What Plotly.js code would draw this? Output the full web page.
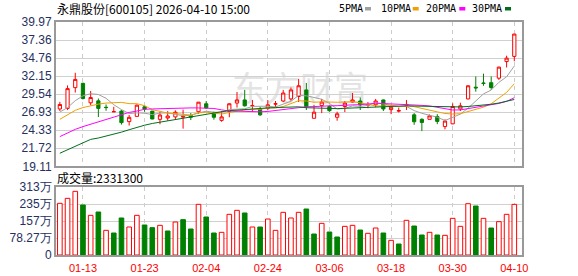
<!DOCTYPE html>
<html><head><meta charset="utf-8">
<script src="https://cdn.plot.ly/plotly-3.0.1.min.js"></script>
<style>html,body{margin:0;padding:0;background:#fff;}#chart{width:578px;height:276px;}</style>
</head><body><div id="chart"></div>
<script>
const dates = ["01-08","01-09","01-12","01-13","01-14","01-15","01-16","01-19","01-20","01-21","01-22","01-23","01-26","01-27","01-28","01-29","01-30","02-02","02-03","02-04","02-05","02-06","02-09","02-10","02-11","02-12","02-13","02-24","02-25","02-26","02-27","03-02","03-03","03-04","03-05","03-06","03-09","03-10","03-11","03-12","03-13","03-16","03-17","03-18","03-19","03-20","03-23","03-24","03-25","03-26","03-27","03-30","03-31","04-01","04-02","04-03","04-07","04-08","04-09","04-10"];
const opens = [27.40,27.48,30.48,31.10,28.29,28.57,27.64,26.99,27.09,25.57,
26.33,27.71,27.09,25.90,26.09,26.25,26.22,26.45,27.00,28.15,
26.85,25.75,27.05,28.25,28.70,27.85,27.35,27.50,28.10,28.55,
28.85,29.20,30.15,26.05,27.90,27.75,26.20,27.75,28.40,28.55,
27.95,28.00,28.70,27.30,27.10,27.95,26.55,25.90,25.90,26.30,
24.85,25.25,27.40,28.85,30.55,31.15,31.20,31.85,34.25,35.00];
const highs = [28.43,30.81,32.63,31.20,30.00,28.91,28.05,27.71,27.24,26.52,
28.05,27.86,27.10,27.00,27.09,27.20,27.30,26.80,28.40,28.55,
27.00,27.10,28.20,29.85,30.15,28.70,27.75,28.70,28.55,30.15,
30.50,31.75,31.15,28.00,28.85,27.90,27.00,28.55,29.70,29.05,
28.40,28.85,28.75,27.75,27.60,28.70,26.80,26.05,26.60,26.65,
25.90,28.20,28.30,30.80,32.10,32.50,32.10,33.50,35.10,38.23];
const lows = [27.10,27.24,29.77,28.77,27.95,26.24,27.14,26.99,25.14,25.00,
26.33,26.99,25.90,25.19,25.71,25.82,24.55,25.80,26.70,27.40,
25.85,25.55,26.20,27.60,27.75,26.95,26.40,27.25,27.65,28.40,
28.60,28.40,27.25,26.05,26.80,27.00,25.70,26.95,28.35,27.25,
27.50,27.65,27.10,26.65,26.90,27.25,25.10,24.20,25.90,25.20,
24.45,25.20,27.10,28.80,29.90,30.75,30.15,31.60,33.40,34.30];
const closes = [28.05,30.34,31.67,28.91,29.05,27.48,27.60,27.01,25.42,26.19,
27.95,27.38,25.95,26.52,26.38,26.93,26.30,26.20,28.38,27.55,
26.20,26.25,28.15,28.70,27.85,27.90,26.55,28.00,28.15,29.70,
30.15,30.75,27.75,26.93,28.40,27.15,26.70,28.25,28.70,27.98,
28.02,28.55,27.40,27.65,27.15,28.05,25.55,25.45,26.40,25.60,
25.65,27.75,27.85,30.75,30.45,31.10,30.50,33.45,34.75,38.23];
const ma5 = [26.95,27.60,28.60,29.30,29.60,29.49,28.94,28.01,27.31,26.74,
26.83,26.79,26.58,26.80,26.84,26.63,26.42,26.47,26.84,27.07,
26.93,26.92,27.31,27.37,27.43,27.77,27.83,27.80,27.69,28.06,
28.51,29.35,29.30,29.06,28.80,28.20,27.39,27.49,27.84,27.76,
27.93,28.30,28.13,27.92,27.75,27.76,27.16,26.77,26.52,26.21,
25.73,26.17,26.65,27.52,28.49,29.58,30.13,31.25,32.05,33.61];
const ma10 = [25.90,26.50,27.20,27.60,27.90,28.10,28.25,28.35,28.35,28.17,
28.16,27.87,27.29,27.06,26.79,26.73,26.60,26.52,26.82,26.95,
26.78,26.67,26.89,27.10,27.25,27.35,27.37,27.55,27.53,27.75,
28.14,28.59,28.55,28.37,28.43,28.35,28.37,28.39,28.45,28.28,
28.06,27.84,27.81,27.88,27.76,27.85,27.73,27.45,27.22,26.98,
26.75,26.67,26.71,27.02,27.35,27.66,28.15,28.95,29.79,31.05];
const ma20 = [23.40,23.95,24.45,24.85,25.20,25.50,25.90,26.20,26.55,26.90,
27.10,27.35,27.40,27.45,27.50,27.50,27.55,27.55,27.55,27.56,
27.47,27.27,27.09,27.08,27.02,27.04,26.99,27.04,27.17,27.35,
27.46,27.63,27.72,27.74,27.84,27.85,27.87,27.97,27.99,28.01,
28.10,28.22,28.18,28.13,28.09,28.10,28.05,27.92,27.83,27.63,
27.40,27.25,27.26,27.45,27.55,27.75,27.94,28.20,28.50,29.02];
const ma30 = [21.00,21.50,22.10,22.60,23.00,23.20,23.45,23.80,24.05,24.40,
24.75,25.05,25.30,25.50,25.65,25.85,26.05,26.25,26.45,26.65,
26.85,27.00,27.15,27.25,27.35,27.45,27.50,27.55,27.60,27.62,
27.69,27.71,27.58,27.51,27.49,27.48,27.45,27.49,27.60,27.66,
27.66,27.70,27.75,27.79,27.81,27.85,27.82,27.80,27.73,27.67,
27.65,27.70,27.69,27.76,27.84,27.95,28.08,28.26,28.48,28.77];
const volumes = [237.9,260.9,293.1,230.2,182.6,198.0,113.6,101.3,170.4,128.9,
182.6,138.1,125.8,136.6,110.5,151.9,162.7,119.7,233.3,175.0,
101.3,104.4,187.2,205.6,193.4,128.9,128.9,165.7,113.6,196.4,
170.4,196.4,211.8,96.7,145.8,105.9,82.9,132.0,136.6,115.1,
99.8,124.3,101.3,67.5,50.6,159.6,133.5,92.1,104.4,92.1,
90.5,168.8,132.0,236.3,225.6,168.8,124.3,153.5,187.2,233.13];
const tickDates = ["01-13","01-23","02-04","02-24","03-06","03-18","03-30","04-10"];
const priceTicks = [19.11,21.72,24.33,26.93,29.54,32.15,34.76,37.36,39.97];
const priceTickText = ["19.11","21.72","24.33","26.93","29.54","32.15","34.76","37.36","39.97"];
const volTicks = [0,78.27,156.54,234.81,313.08];
const volTickText = ["0","78.27万","157万","235万","313万"];
const maNames = ["5PMA","10PMA","20PMA","30PMA"];
const maColors = ["#a0a0a0","#f0a000","#ff00ff","#006e1e"];

const RED = "#ff0000", GREEN = "#008000";
const volUp = closes.map((c,i)=> i===0 ? true : c >= closes[i-1]);

const traces = [
  {type:'candlestick', x:dates, open:opens, high:highs, low:lows, close:closes,
   xaxis:'x', yaxis:'y', whiskerwidth:0, hoverinfo:'skip',
   increasing:{line:{color:RED,width:1}, fillcolor:'#ffffff'},
   decreasing:{line:{color:GREEN,width:1}, fillcolor:GREEN}}
];
[ma5,ma10,ma20,ma30].forEach((arr,k)=>{
  traces.push({type:'scatter', mode:'lines', x:dates, y:arr, xaxis:'x', yaxis:'y',
    line:{color:maColors[k], width:1}, hoverinfo:'skip', name:maNames[k]});
});
traces.push({type:'bar', x:dates, y:volumes, xaxis:'x2', yaxis:'y2', hoverinfo:'skip',
  marker:{color:volUp.map(u=>u?'#ffffff':GREEN), line:{color:volUp.map(u=>u?RED:GREEN), width:1}}});

const W = 578, H = 276, ML = 56, MR = 56, MT = 22, MB = 21;
const PW = W-ML-MR, PH = H-MT-MB;
const px = v => (v-ML)/PW;
const py = v => (H-MB-v)/PH;

const annotations = [
  {text:'永鼎股份[600105] 2026-04-10 15:00', xref:'paper', yref:'paper', x:px(55), y:py(9),
   xanchor:'left', yanchor:'middle', showarrow:false, font:{family:'Noto Sans CJK SC', size:12, color:'#000'}},
  {text:'成交量:2331300', xref:'paper', yref:'paper', x:px(55), y:py(177),
   xanchor:'left', yanchor:'middle', showarrow:false, font:{family:'Noto Sans CJK SC', size:12, color:'#000'}}
];
const legendX = [336.5, 378.5, 423.5, 470];
const squareX = [365, 412.7, 459.3, 505];
const shapes = [
  {type:'rect', xref:'paper', yref:'paper', x0:px(215), x1:px(385), y0:py(112), y1:py(70), layer:'between',
   line:{width:0}, fillcolor:'rgba(0,0,0,0)',
   label:{text:'东方财富', font:{family:'Noto Sans CJK SC', size:34, color:'#e3e3e3'}, textposition:'middle center'}}
];
maNames.forEach((n,k)=>{
  annotations.push({text:n, xref:'paper', yref:'paper', x:px(legendX[k]), y:py(9), xanchor:'left', yanchor:'middle',
    showarrow:false, font:{family:'DejaVu Sans Mono', size:10, color:'#000'}});
  shapes.push({type:'rect', xref:'paper', yref:'paper', x0:px(squareX[k]), x1:px(squareX[k]+6), y0:py(10.5), y1:py(7),
    line:{width:0}, fillcolor:maColors[k]});
});

const axisCommon = {showline:true, mirror:true, linecolor:'#999999', linewidth:2, zeroline:false, fixedrange:true};
const layout = {
  width:W, height:H, margin:{l:ML, r:MR, t:MT, b:MB}, paper_bgcolor:'#fff', plot_bgcolor:'#fff',
  showlegend:false, boxgap:0.4, bargap:0.4,
  xaxis:Object.assign({type:'category', range:[-0.5,60], anchor:'y', tickvals:tickDates, showticklabels:false, ticks:'',
    showgrid:true, gridcolor:'#cccccc', griddash:'4px,4px', gridwidth:1, rangeslider:{visible:false}}, axisCommon),
  yaxis:Object.assign({domain:[py(166.3),1], range:[19.11,39.97], tickvals:priceTicks, ticktext:priceTickText, ticks:'',
    showgrid:true, gridcolor:'#d0d0d0', gridwidth:1,
    tickfont:{family:'Liberation Sans', size:12, color:'#253060'}}, axisCommon),
  xaxis2:Object.assign({type:'category', range:[-0.5,60], anchor:'y2', tickvals:tickDates, ticktext:tickDates, ticks:'',
    showgrid:true, gridcolor:'#cccccc', griddash:'4px,4px', gridwidth:1, ticklabelstandoff:2,
    tickfont:{family:'Liberation Sans', size:11, color:'#ff0000'}}, axisCommon),
  yaxis2:Object.assign({domain:[0,py(187)], range:[0,313.08], tickvals:volTicks, ticktext:volTickText, ticks:'',
    showgrid:true, gridcolor:'#d0d0d0', gridwidth:1,
    tickfont:{family:'Liberation Sans', size:12, color:'#253060'}}, axisCommon),
  annotations:annotations, shapes:shapes
};
Plotly.newPlot('chart', traces, layout, {staticPlot:true, displayModeBar:false});
</script>
</body></html>
